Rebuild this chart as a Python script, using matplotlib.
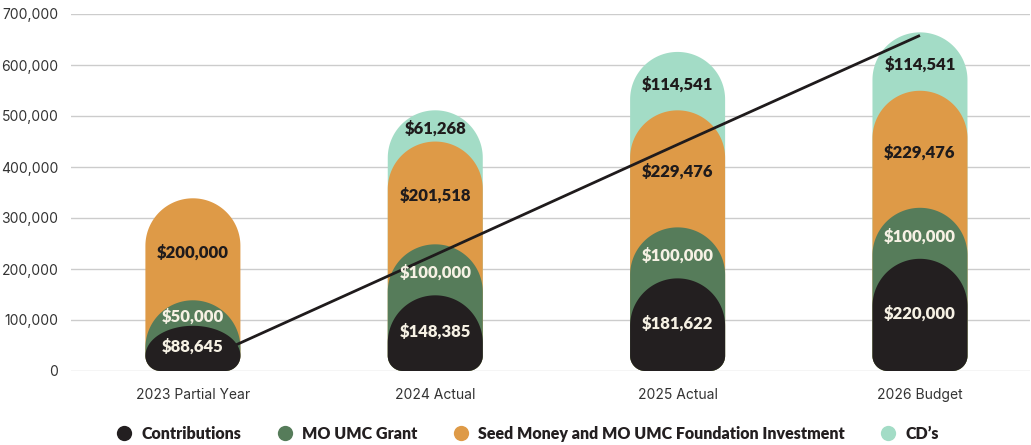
import matplotlib.pyplot as plt
import numpy as np
from matplotlib.patches import Polygon
from matplotlib.lines import Line2D

categories = ["2023 Partial Year", "2024 Actual", "2025 Actual", "2026 Budget"]
contributions = [88645, 148385, 181622, 220000]
grant = [50000, 100000, 100000, 100000]
seed_money = [200000, 201518, 229476, 229476]
cds = [0, 61268, 114541, 114541]
trend = [13000, 228000, 444000, 658000]

series_names = ["Contributions", "MO UMC Grant",
                "Seed Money and MO UMC Foundation Investment", "CD\u2019s"]
colors = ["#231f20", "#567c5a", "#de9a47", "#a3dcc6"]
text_colors = ["#f6f1e4", "#f6f1e4", "#1f1b1c", "#1f1b1c"]

plt.rcParams['font.family'] = ['Inter', 'DejaVu Sans']

fig = plt.figure(figsize=(10.31, 4.45), dpi=100)
ax = fig.add_axes([71 / 1031, 74 / 445, 959 / 1031, 357 / 445])
ax.set_xlim(-0.503, 3.454)
ax.set_ylim(0, 700000)


def pill(ax, xc, width, top, color, zorder):
    """rounded pill from 0 to top: elliptical cap on top, small corners at bottom"""
    p0 = ax.transData.transform((0, 0))
    p1 = ax.transData.transform((1, 100000))
    px_x = p1[0] - p0[0]
    px_y = (p1[1] - p0[1]) / 100000
    rx = width / 2
    ry = rx * px_x / px_y
    rbx = width * 0.16
    rby = rbx * px_x / px_y
    ry = min(ry, top - rby)
    n = 40
    pts = []
    # bottom left corner
    t = np.linspace(np.pi, 1.5 * np.pi, n)
    pts += list(zip(xc - rx + rbx + rbx * np.cos(t), rby + rby * np.sin(t)))
    # bottom right corner
    t = np.linspace(1.5 * np.pi, 2 * np.pi, n)
    pts += list(zip(xc + rx - rbx + rbx * np.cos(t), rby + rby * np.sin(t)))
    # top cap
    t = np.linspace(0, np.pi, 2 * n)
    pts += list(zip(xc + rx * np.cos(t), top - ry + ry * np.sin(t)))
    ax.add_patch(Polygon(pts, closed=True, facecolor=color, edgecolor='none', zorder=zorder))


bar_w = 0.392
x = np.arange(len(categories))
layers = [contributions, grant, seed_money, cds]
cum = np.cumsum(np.array(layers, dtype=float), axis=0)

for i in reversed(range(4)):
    for j in range(len(categories)):
        if layers[i][j] == 0:
            continue
        pill(ax, x[j], bar_w, cum[i][j], colors[i], zorder=2 + (4 - i))

ax.plot(x, trend, color="#1f1b1c", lw=2, zorder=5.5, solid_capstyle='butt')

for i in range(4):
    for j in range(len(categories)):
        if layers[i][j] == 0:
            continue
        bottom = cum[i][j] - layers[i][j]
        shift = 3000 if i == 0 else -6000
        ymid = (bottom + cum[i][j]) / 2 + shift
        ax.text(x[j], ymid, "${:,}".format(layers[i][j]), ha='center', va='center',
                fontsize=12, fontweight='heavy', family=['Lato', 'DejaVu Sans'],
                color=text_colors[i], zorder=10)

ax.set_yticks(np.arange(0, 700001, 100000))
ax.set_yticklabels(["{:,}".format(v) for v in range(0, 700001, 100000)])
ax.set_xticks(x)
ax.set_xticklabels(categories)
ax.tick_params(axis='both', length=0, labelsize=10, labelcolor="#333333")
ax.tick_params(axis='x', pad=12)
ax.tick_params(axis='y', pad=9)
ax.grid(axis='y', color="#cccccc", lw=1)
ax.set_axisbelow(True)
for s in ax.spines.values():
    s.set_visible(False)

handles = [Line2D([], [], marker='o', ls='none', markersize=11, markerfacecolor=c,
                  markeredgecolor='none') for c in colors]
fig.legend(handles, series_names, loc='lower center', bbox_to_anchor=(0.512, -0.025), ncol=4,
           frameon=False, handlelength=1.0, handletextpad=0.6, columnspacing=2.2,
           prop={'family': ['Lato', 'DejaVu Sans'], 'weight': 'heavy', 'size': 11.5},
           labelcolor="#231f20")

fig.savefig("out.png", dpi=100)
